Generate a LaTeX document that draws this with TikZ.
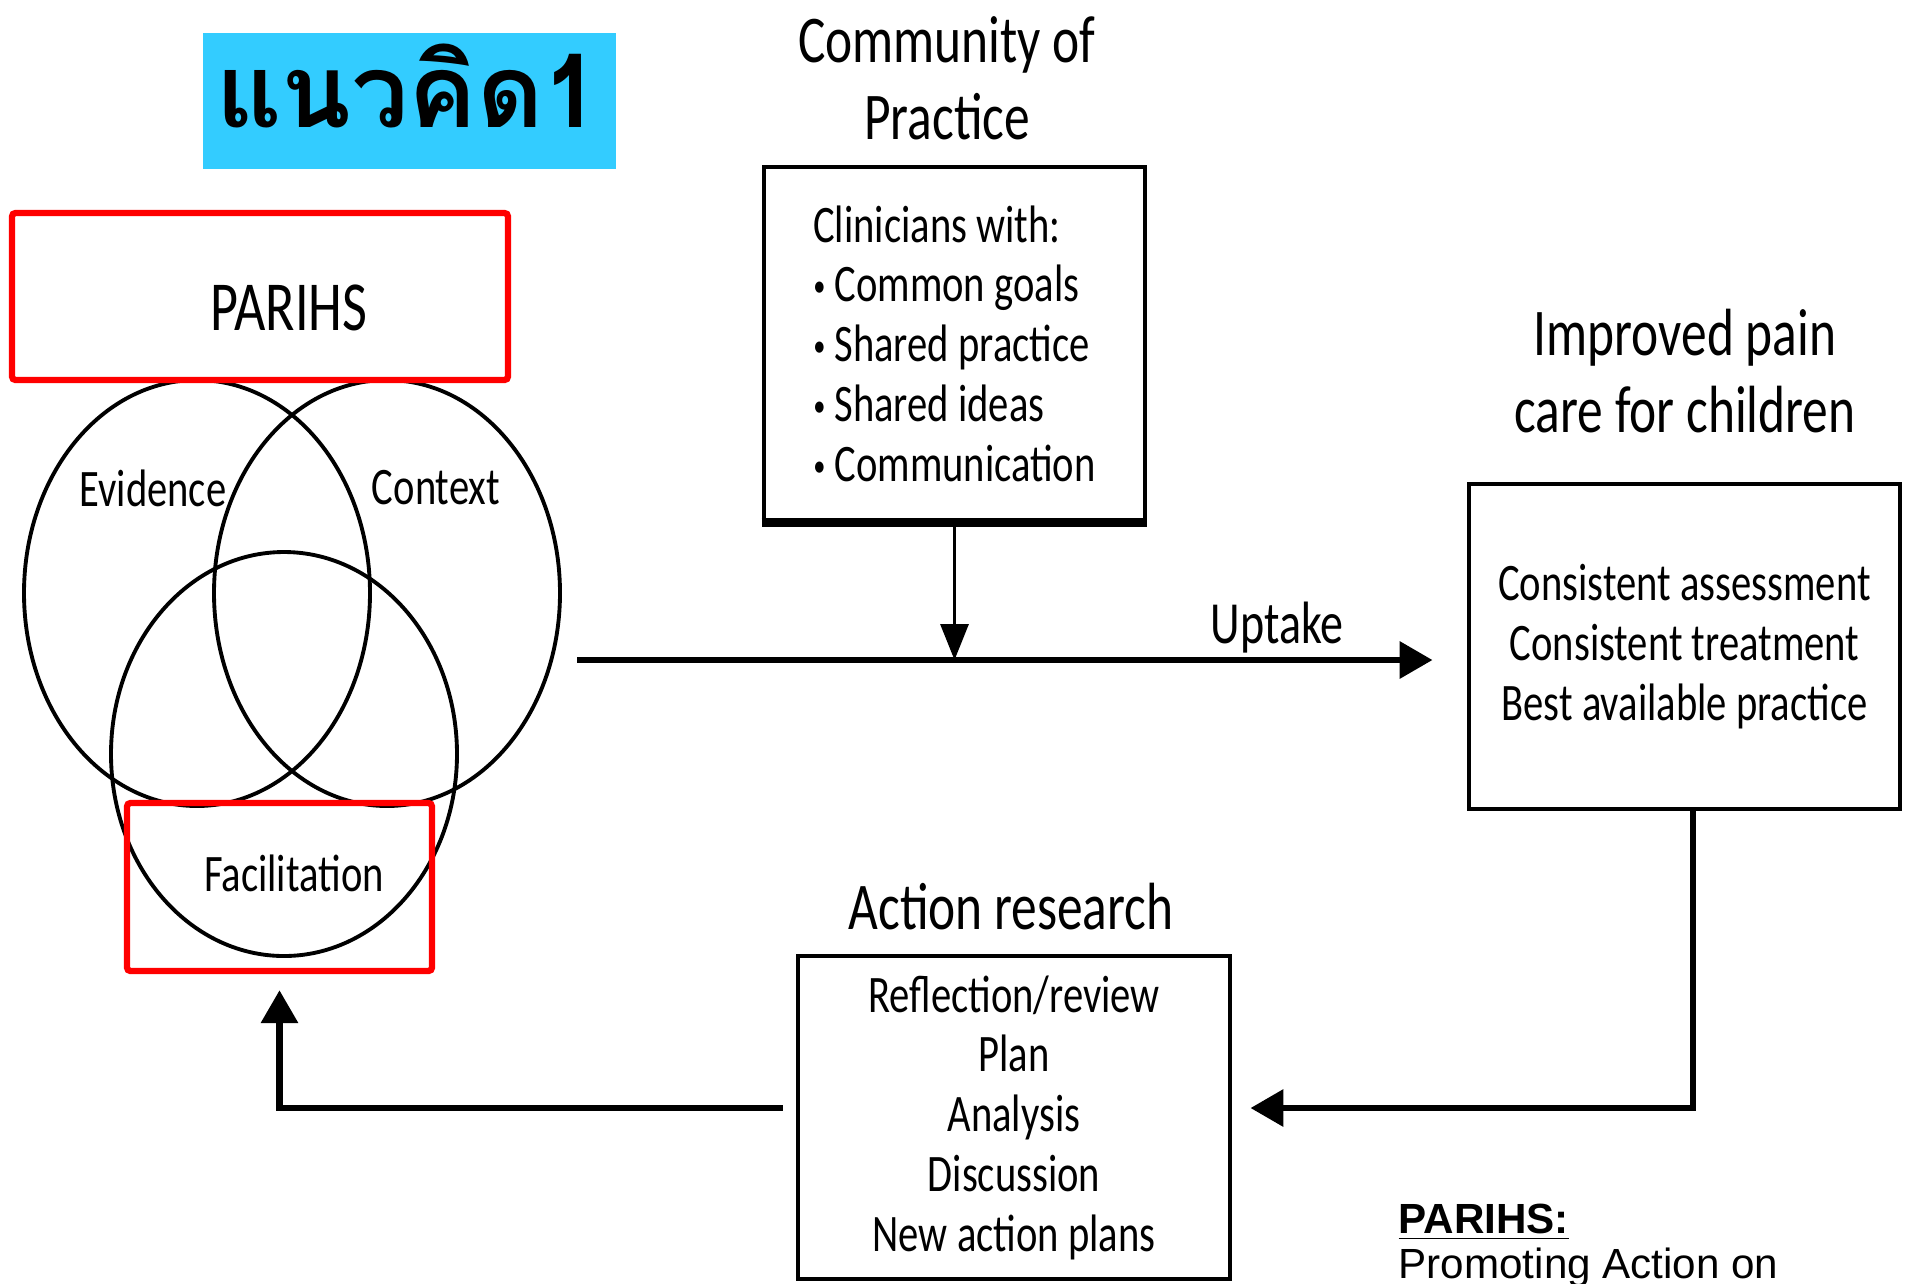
\documentclass[tikz,border=0pt]{standalone}
\usepackage{fontspec}
\setmainfont{Carlito}[FakeStretch=0.77]
\newfontfamily\thaifont[Script=Thai]{Loma}
\newfontfamily\notefont{Liberation Sans}
\usetikzlibrary{arrows.meta}
\definecolor{tagblue}{HTML}{33CCFF}
\newcommand{\dotitem}{\raisebox{0.2ex}{\fontsize{9}{9}\selectfont\textbullet}\ }

\begin{document}
\begin{tikzpicture}[x=0.1mm, y=-0.1mm,
  ring/.style={line width=1.1pt},
  hilite/.style={draw=red, line width=1.8pt, rounded corners=1pt, inner sep=0pt},
  box/.style={draw, line width=1.4pt, align=center, font=\fontsize{15}{17}\selectfont},
  lbl/.style={font=\fontsize{15}{17}\selectfont},
  head/.style={align=center, font=\fontsize{19}{22}\selectfont},
  flow/.style={line width=1.9pt, -{Triangle[length=3.3mm, width=3.6mm]}},
  note/.style={font=\notefont\fontsize{12}{14}\selectfont, inner sep=0pt}]
\useasboundingbox (0,0) rectangle (1910,1283);

% tag
\node[fill=tagblue, inner sep=0pt, minimum width=41.3mm, minimum height=13.6mm] (tag) at (409.5,101) {};
\node[font=\thaifont\bfseries\fontsize{29}{34}\selectfont] (tagtext) at (408,86) {แนวคิด1};

% PARIHS model
\draw[ring] (197,593) ellipse [x radius=17.3mm, y radius=21.3mm];
\draw[ring] (387,593) ellipse [x radius=17.3mm, y radius=21.3mm];
\draw[ring] (284,754) ellipse [x radius=17.3mm, y radius=20.2mm];
\node[lbl] (evid) at (153,488) {Evidence};
\node[lbl] (cont) at (436,488) {Context};
\node[hilite, minimum width=49.6mm, minimum height=16.7mm] (parihs) at (260,296.5) {};
\node[font=\fontsize{20}{24}\selectfont] (parihstext) at (289,308) {PARIHS};
\node[hilite, minimum width=30.5mm, minimum height=16.8mm] (facbox) at (279.5,887) {};
\node[lbl] (fac) at (294,873) {Facilitation};

% community of practice
\node[head] (coptitle) at (947,78) {Community of\\Practice};
\node[box, align=left, minimum width=38.1mm, minimum height=35.3mm] (cop) at (954.5,343.5)
  {Clinicians with:\\\dotitem Common goals\\\dotitem Shared practice\\\dotitem Shared ideas\\\dotitem Communication};
\draw[line width=2.6pt] (cop.south west) -- (cop.south east);

% outcome
\node[head] (outtitle) at (1685,371) {Improved pain\\care for children};
\node[box, minimum width=43.1mm, minimum height=32.5mm] (out) at (1684.5,646.5)
  {Consistent assessment\\Consistent treatment\\Best available practice};

% action research
\node[head] (acttitle) at (1011,907) {Action research};
\node[box, minimum width=43.2mm, minimum height=32.3mm] (act) at (1014,1117.5)
  {Reflection/review\\Plan\\Analysis\\Discussion\\New action plans};

% uptake
\coordinate (upstart) at (577,660);
\draw[flow, shorten >=3.4mm] (upstart) -- (upstart -| out.west);
\node[anchor=base, font=\fontsize{17}{20}\selectfont] (uptake) at (1277,643) {Uptake};
\draw[line width=0.9pt, -{Triangle[length=3.6mm, width=2.8mm]}] (cop.south) -- (cop.south |- upstart);

% feedback loop
\draw[flow, shorten >=1.8mm] ([xshift=0.85mm]out.south) |- ([yshift=0.95mm]act.east);
\draw[flow, shorten <=1.3mm, shorten >=1.6mm] ([yshift=0.95mm]act.west) -| (facbox.south);

% note
\node[note, anchor=base west] (notehead) at (1398,1233) {\bfseries\underline{PARIHS:}};
\node[note, anchor=base west] (notebody) at (1398,1278) {Promoting Action on};
\end{tikzpicture}
\end{document}
